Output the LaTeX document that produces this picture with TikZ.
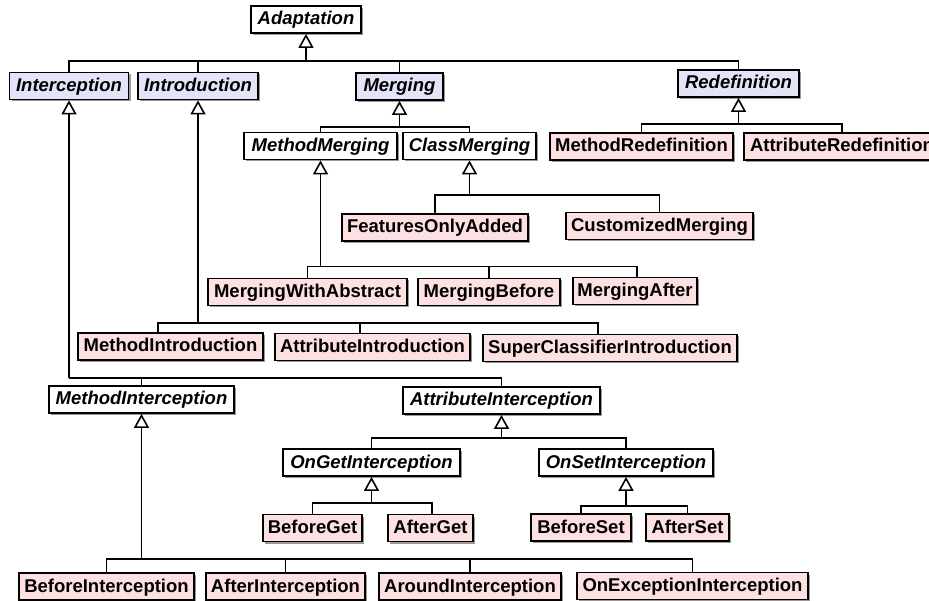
\documentclass[tikz,border=0pt]{standalone}
\usepackage{fontspec}
\setmainfont{Liberation Sans}
\usetikzlibrary{arrows.meta,shadows}
\definecolor{lav}{HTML}{E4E4F8}
\definecolor{pinkc}{HTML}{FCE0E2}
\tikzset{
 box/.style={draw, line width=1.8pt, minimum height=27pt, inner sep=0pt,
   text height=14pt, text depth=3pt,
   drop shadow={shadow xshift=2pt, shadow yshift=-2pt, fill=black!40, opacity=1}},
 abs/.style={box, fill=white, font=\bfseries\itshape\fontsize{18.5}{20}\selectfont},
 absl/.style={abs, fill=lav},
 conc/.style={box, fill=pinkc, font=\bfseries\fontsize{18.5}{20}\selectfont},
 inh/.style={-{Triangle[open,length=14pt,width=15pt,line width=1.6pt]}, line width=1.8pt},
 link/.style={line width=1.8pt}
}
\begin{document}
\begin{tikzpicture}[x=1pt,y=-1pt]
\useasboundingbox (0,0) rectangle (929,601);
\clip (0,0) rectangle (929,601);
% nodes
\node[abs, minimum width=110pt] (adapt) at (306,19.5) {Adaptation};
\node[absl, minimum width=119pt] (interc) at (69,86) {Interception};
\node[absl, minimum width=120pt] (intro) at (198,86) {Introduction};
\node[absl, minimum width=87pt] (merg) at (399.5,86.5) {Merging};
\node[absl, minimum width=121pt] (redef) at (738.5,83.5) {Redefinition};
\node[abs, minimum width=153pt] (mmerg) at (320.5,146) {MethodMerging};
\node[abs, minimum width=133pt] (cmerg) at (469.5,146) {ClassMerging};
\node[conc, minimum width=183pt] (mredef) at (641.5,146.5) {MethodRedefinition};
\node[conc, minimum width=196pt] (aredef) at (842,146.5) {AttributeRedefinition};
\node[conc, minimum width=186pt] (foa) at (435,227.5) {FeaturesOnlyAdded};
\node[conc, minimum width=187pt] (custm) at (659.5,226) {CustomizedMerging};
\node[conc, minimum width=199pt] (mwa) at (307.5,292) {MergingWithAbstract};
\node[conc, minimum width=142pt] (mbef) at (489,292) {MergingBefore};
\node[conc, minimum width=124pt] (maft) at (635,291) {MergingAfter};
\node[conc, minimum width=185pt] (mintro) at (170.5,346.5) {MethodIntroduction};
\node[conc, minimum width=195pt] (aintro) at (372.5,347) {AttributeIntroduction};
\node[conc, minimum width=254pt] (scintro) at (610,348) {SuperClassifierIntroduction};
\node[abs, minimum width=185pt] (minter) at (141.5,399.5) {MethodInterception};
\node[abs, minimum width=197pt] (ainter) at (501.5,400.5) {AttributeInterception};
\node[abs, minimum width=177pt] (ongi) at (371.5,462.5) {OnGetInterception};
\node[abs, minimum width=174pt] (onsi) at (626,462.5) {OnSetInterception};
\node[conc, minimum width=99pt] (bget) at (312.5,528) {BeforeGet};
\node[conc, minimum width=85pt] (aget) at (430.5,528) {AfterGet};
\node[conc, minimum width=100pt] (bset) at (581,527.5) {BeforeSet};
\node[conc, minimum width=83pt] (aset) at (687.5,527.5) {AfterSet};
\node[conc, minimum width=175pt] (binter) at (106.5,586.5) {BeforeInterception};
\node[conc, minimum width=159pt] (afinter) at (285.5,586.5) {AfterInterception};
\node[conc, minimum width=182pt] (arinter) at (470,586.5) {AroundInterception};
\node[conc, minimum width=231pt] (oeinter) at (692.5,586) {OnExceptionInterception};
% bar coordinates
\coordinate (adaptbar) at (306,61);
\coordinate (mergbar) at (399.5,127);
\coordinate (redefbar) at (738.5,124);
\coordinate (cmergbar) at (469.5,195);
\coordinate (mmergbar) at (320.5,266.5);
\coordinate (introbar) at (198,323);
\coordinate (intercbar) at (69,378);
\coordinate (ainterbar) at (501.5,438);
\coordinate (ongibar) at (371.5,503);
\coordinate (onsibar) at (626,506);
\coordinate (minterbar) at (141.5,559);
% generalisation arrows
\draw[inh] (adaptbar) -- (adapt.south);
\draw[inh] (mergbar) -- (merg.south);
\draw[inh] (redefbar) -- (redef.south);
\draw[inh] (cmergbar) -- (cmerg.south);
\draw[inh] (mmergbar) -- (mmerg.south);
\draw[inh] (introbar) -- (intro.south);
\draw[inh] (intercbar) -- (interc.south);
\draw[inh] (ainterbar) -- (ainter.south);
\draw[inh] (ongibar) -- (ongi.south);
\draw[inh] (onsibar) -- (onsi.south);
\draw[inh] (minterbar) -- (minter.south);
% children
\draw[link] (interc.north) |- (adaptbar);
\draw[link] (intro.north) |- (adaptbar);
\draw[link] (merg.north) |- (adaptbar);
\draw[link] (redef.north) |- (adaptbar);
\draw[link] (mmerg.north) |- (mergbar);
\draw[link] (cmerg.north) |- (mergbar);
\draw[link] (mredef.north) |- (redefbar);
\draw[link] (aredef.north) |- (redefbar);
\draw[link] (foa.north) |- (cmergbar);
\draw[link] (custm.north) |- (cmergbar);
\draw[link] (mwa.north) |- (mmergbar);
\draw[link] (mbef.north) |- (mmergbar);
\draw[link] ([xshift=2pt]maft.north) |- (mmergbar);
\draw[link] ([xshift=-12.5pt]mintro.north) |- (introbar);
\draw[link] ([xshift=-12.5pt]aintro.north) |- (introbar);
\draw[link] ([xshift=-12pt]scintro.north) |- (introbar);
\draw[link] (minter.north) |- (intercbar);
\draw[link] (ainter.north) |- (intercbar);
\draw[link] (ongi.north) |- (ainterbar);
\draw[link] (onsi.north) |- (ainterbar);
\draw[link] (bget.north) |- (ongibar);
\draw[link] ([xshift=1.5pt]aget.north) |- (ongibar);
\draw[link] (bset.north) |- (onsibar);
\draw[link] (aset.north) |- (onsibar);
\draw[link] (binter.north) |- (minterbar);
\draw[link] (afinter.north) |- (minterbar);
\draw[link] (arinter.north) |- (minterbar);
\draw[link] (oeinter.north) |- (minterbar);
\end{tikzpicture}
\end{document}
